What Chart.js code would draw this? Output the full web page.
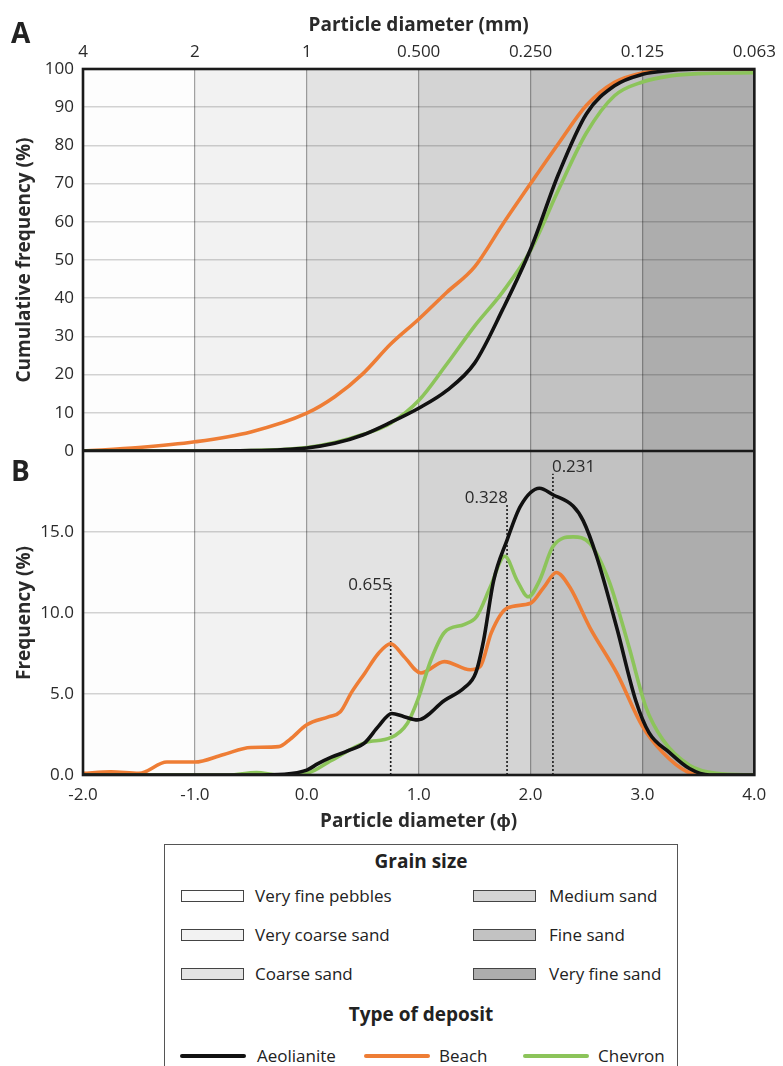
<!DOCTYPE html>
<html><head><meta charset="utf-8">
<script src="https://cdn.jsdelivr.net/npm/chart.js@4.4.1/dist/chart.umd.min.js"></script>
<style>
html,body{margin:0;padding:0;background:#fff;}
body{width:783px;height:1066px;position:relative;overflow:hidden;font-family:'Open Sans',sans-serif;color:#222;}
#wrap{position:absolute;left:0;top:0;width:783px;height:845px;}
.plabel{position:absolute;font-weight:700;font-size:28px;line-height:28px;color:#222;}
#legend{position:absolute;left:164px;top:844px;width:514px;height:260px;border:1.5px solid #555;box-sizing:border-box;background:#fff;}
#legend .t{position:absolute;left:0;width:100%;text-align:center;font-weight:700;font-size:19px;line-height:24px;transform:translateY(-50%);}
#legend .sw{position:absolute;width:63px;height:12px;border:1.5px solid #444;box-sizing:border-box;transform:translateY(-50%);}
#legend .ln{position:absolute;width:66px;height:4px;border-radius:2px;transform:translateY(-50%);}
#legend .lb{position:absolute;font-size:17px;line-height:22px;white-space:nowrap;transform:translateY(-50%);color:#222;}
</style>
</head><body>
<div id="wrap"><canvas id="c" width="783" height="845"></canvas></div>
<div class="plabel" style="left:11px;top:18px;">A</div>
<div class="plabel" style="left:11px;top:456px;">B</div>
<div id="legend"></div>
<script>
// ---- Data ----
const phiCum = [-2, -1.5, -1, -0.5, 0, 0.25, 0.5, 0.75, 1, 1.25, 1.5, 1.75, 2, 2.25, 2.5, 2.75, 3, 3.25, 3.5, 4];
const cumAeolianite = [0, 0, 0, 0.1, 0.8, 2.0, 4.2, 7.5, 11.2, 15.8, 23.0, 37.0, 52.8, 72.5, 88.3, 95.6, 98.6, 99.6, 100, 100];
const cumBeach      = [0, 0.9, 2.4, 5.0, 9.9, 14.2, 20.2, 28.0, 34.5, 41.5, 48.2, 59.3, 70.0, 80.5, 90.5, 96.5, 99.0, 99.8, 100, 100];
const cumChevron    = [0, 0, 0, 0.1, 0.9, 2.2, 4.3, 7.3, 13.2, 22.7, 32.7, 41.6, 52.5, 68.4, 83.3, 93.0, 96.6, 98.2, 98.8, 99.0];

const phiFreqAeolianite = [-2, -1, -0.5, -0.2, 0.0, 0.1, 0.22, 0.37, 0.52, 0.64, 0.76, 0.87, 0.99, 1.23, 1.41, 1.51, 1.58, 1.67, 1.79, 1.91, 2.08, 2.2, 2.38, 2.47, 2.59, 2.77, 2.94, 3.06, 3.24, 3.42, 3.6, 4.0];
const freqAeolianite    = [0, 0, 0, 0.05, 0.3, 0.7, 1.1, 1.5, 2.0, 3.0, 3.8, 3.6, 3.4, 4.6, 5.4, 6.3, 8.3, 12.0, 14.5, 16.6, 17.7, 17.3, 16.6, 15.7, 13.5, 9.1, 4.6, 2.6, 1.4, 0.4, 0, 0];
const phiFreqBeach = [-2.0, -1.75, -1.5, -1.25, -1.0, -0.75, -0.5, -0.25, -0.15, 0.0, 0.2, 0.3, 0.4, 0.52, 0.64, 0.75, 0.87, 1.02, 1.23, 1.46, 1.55, 1.65, 1.79, 2.0, 2.12, 2.23, 2.35, 2.53, 2.77, 3.0, 3.18, 3.4, 3.6, 4.0];
const freqBeach    = [0.1, 0.2, 0.1, 0.8, 0.8, 1.25, 1.7, 1.75, 2.2, 3.1, 3.6, 3.9, 5.1, 6.3, 7.5, 8.1, 7.3, 6.3, 7.0, 6.5, 6.7, 8.8, 10.3, 10.6, 11.6, 12.5, 11.6, 9.1, 6.3, 3.0, 1.4, 0.2, 0, 0];
const phiFreqChevron = [-2, -0.7, -0.45, -0.25, 0.0, 0.22, 0.52, 0.75, 0.9, 0.99, 1.11, 1.23, 1.41, 1.52, 1.64, 1.77, 1.88, 1.98, 2.08, 2.2, 2.38, 2.53, 2.7, 2.88, 3.03, 3.18, 3.42, 3.66, 4.0];
const freqChevron    = [0, 0, 0.15, 0, 0.1, 0.9, 2.0, 2.3, 3.2, 4.6, 7.1, 8.8, 9.3, 9.8, 11.6, 13.5, 12.0, 11.0, 12.0, 14.1, 14.7, 14.3, 12.0, 7.9, 4.2, 2.2, 0.6, 0.1, 0];

const modePhi    = [0.75, 1.79, 2.2];
const modeTop    = [11.9, 16.7, 18.6];
const modeLabelY = [11.7, 17.1, 19.0];
const modeLabels = ['0.655', '0.328', '0.231'];
const modeAlign  = ['right', 'right', 'left'];

const mmTickLabels = ['4', '2', '1', '0.500', '0.250', '0.125', '0.063'];
const bandEdges   = [-2, -1, 0, 1, 2, 3, 4];
const grainLabels = ['Very fine pebbles', 'Very coarse sand', 'Coarse sand', 'Medium sand', 'Fine sand', 'Very fine sand'];
const grainColors = ['#fdfdfd', '#f2f2f2', '#e3e3e3', '#d4d4d4', '#c2c2c2', '#adadad'];
const seriesNames  = ['Aeolianite', 'Beach', 'Chevron'];
const seriesColors = ['#111111', '#ee7d35', '#8cc45a'];

// ---- Chart ----
const FONT = "'Open Sans', sans-serif";
const TXT = '#2a2a2a';
function pts(xs, ys) { return xs.map((x, i) => ({x: x, y: ys[i]})); }
function curve(label, xs, ys, color, axis) {
  return {label: label, data: pts(xs, ys), yAxisID: axis, xAxisID: 'x', borderColor: color,
    borderWidth: 3.6, pointRadius: 0, fill: false, cubicInterpolationMode: 'monotone', borderCapStyle: 'round'};
}
const datasets = [
  curve('Aeolianite', phiCum, cumAeolianite, seriesColors[0], 'yA'),
  curve('Aeolianite', phiFreqAeolianite, freqAeolianite, seriesColors[0], 'yB'),
  curve('Chevron', phiCum, cumChevron, seriesColors[2], 'yA'),
  curve('Chevron', phiFreqChevron, freqChevron, seriesColors[2], 'yB'),
  curve('Beach', phiCum, cumBeach, seriesColors[1], 'yA'),
  curve('Beach', phiFreqBeach, freqBeach, seriesColors[1], 'yB'),
];
modePhi.forEach((p, i) => {
  datasets.push({label: 'mode ' + modeLabels[i], data: [{x: p, y: 0}, {x: p, y: modeTop[i]}],
    yAxisID: 'yB', xAxisID: 'x', borderColor: '#1a1a1a', borderWidth: 1.6, borderDash: [2, 2],
    pointRadius: 0, fill: false, tension: 0});
});

const bandsPlugin = {
  id: 'bands',
  beforeDraw(chart) {
    const {ctx, chartArea: {top, bottom}, scales: {x}} = chart;
    ctx.save();
    for (let i = 0; i < grainColors.length; i++) {
      const l = x.getPixelForValue(bandEdges[i]), r = x.getPixelForValue(bandEdges[i + 1]);
      ctx.fillStyle = grainColors[i];
      ctx.fillRect(l, top, r - l, bottom - top);
    }
    ctx.restore();
  },
  afterDatasetsDraw(chart) {
    const {ctx, chartArea: ca, scales} = chart;
    ctx.save();
    ctx.strokeStyle = '#1a1a1a';
    ctx.lineWidth = 2.6;
    ctx.strokeRect(ca.left, ca.top, ca.right - ca.left, ca.bottom - ca.top);
    const yDiv = scales.yA.getPixelForValue(0);
    ctx.beginPath(); ctx.moveTo(ca.left, yDiv); ctx.lineTo(ca.right, yDiv); ctx.stroke();
    ctx.fillStyle = TXT;
    ctx.font = "17px " + FONT;
    ctx.textBaseline = 'middle';
    modeLabels.forEach((t, i) => {
      const px = scales.x.getPixelForValue(modePhi[i]);
      const py = scales.yB.getPixelForValue(modeLabelY[i]);
      ctx.textAlign = modeAlign[i];
      ctx.fillText(t, modeAlign[i] === 'right' ? px + 1 : px - 1, py);
    });
    ctx.restore();
  }
};

const tickFont = {family: FONT, size: 17};
const titleFont = {family: FONT, size: 19, weight: 'bold'};

new Chart(document.getElementById('c'), {
  type: 'line',
  data: {datasets: datasets},
  plugins: [bandsPlugin],
  options: {
    responsive: false, animation: false,
    layout: {padding: {left: 0, right: 24, top: 0, bottom: 0}},
    plugins: {legend: {display: false}, tooltip: {enabled: false}},
    scales: {
      x: {type: 'linear', position: 'bottom', min: -2, max: 4,
        ticks: {stepSize: 1, autoSkip: false, callback: v => v.toFixed(1), padding: 10, font: tickFont, color: TXT, maxRotation: 0},
        grid: {color: 'rgba(0,0,0,0.36)', lineWidth: 1.2, drawTicks: false},
        border: {display: false},
        title: {display: true, text: 'Particle diameter (ϕ)', font: titleFont, color: TXT, padding: {top: 0, bottom: 12}},
        afterFit: s => { s.height = 70; }
      },
      x2: {type: 'linear', position: 'top', min: -2, max: 4,
        ticks: {stepSize: 1, autoSkip: false, callback: v => mmTickLabels[Math.round(v + 2)], padding: 7, font: tickFont, color: TXT, maxRotation: 0},
        grid: {display: false, drawTicks: false},
        border: {display: false},
        title: {display: true, text: 'Particle diameter (mm)', font: titleFont, color: TXT, padding: {top: 14, bottom: 0}},
        afterFit: s => { s.height = 69; }
      },
      yB: {type: 'linear', position: 'left', stack: 'panels', stackWeight: 324, min: 0, max: 20,
        ticks: {stepSize: 5, autoSkip: false, callback: v => v >= 20 ? '' : v.toFixed(1), padding: 9, font: tickFont, color: TXT},
        grid: {color: 'rgba(0,0,0,0.17)', lineWidth: 1.5, drawTicks: false},
        border: {display: false},
        title: {display: true, text: 'Frequency (%)', font: titleFont, color: TXT, padding: {top: 13, bottom: 0}},
        afterFit: s => { s.width = 83; }
      },
      yA: {type: 'linear', position: 'left', stack: 'panels', stackWeight: 382, min: 0, max: 100,
        ticks: {stepSize: 10, autoSkip: false, callback: v => String(v), padding: 9, font: tickFont, color: TXT},
        grid: {color: 'rgba(0,0,0,0.17)', lineWidth: 1.5, drawTicks: false},
        border: {display: false},
        title: {display: true, text: 'Cumulative frequency (%)', font: titleFont, color: TXT, padding: {top: 13, bottom: 0}},
        afterFit: s => { s.width = 83; }
      }
    }
  }
});

// ---- Legend (HTML text) ----
const lg = document.getElementById('legend');
function add(cls, style, text) {
  const d = document.createElement('div'); d.className = cls;
  Object.assign(d.style, style); if (text) d.textContent = text; lg.appendChild(d); return d;
}
add('t', {top: '16px'}, 'Grain size');
const rowY = [51, 89.5, 128.5];
grainLabels.forEach((g, i) => {
  const col = Math.floor(i / 3), row = i % 3;
  const sx = col === 0 ? 16 : 308, tx = col === 0 ? 90 : 384;
  add('sw', {left: sx + 'px', top: rowY[row] + 'px', background: grainColors[i]});
  add('lb', {left: tx + 'px', top: rowY[row] + 'px'}, g);
});
add('t', {top: '169px'}, 'Type of deposit');
const lineX = [15, 199, 358], lineTx = [92, 274, 433];
seriesNames.forEach((n, i) => {
  add('ln', {left: lineX[i] + 'px', top: '211px', background: seriesColors[i]});
  add('lb', {left: lineTx[i] + 'px', top: '211px'}, n);
});
</script>
</body></html>
